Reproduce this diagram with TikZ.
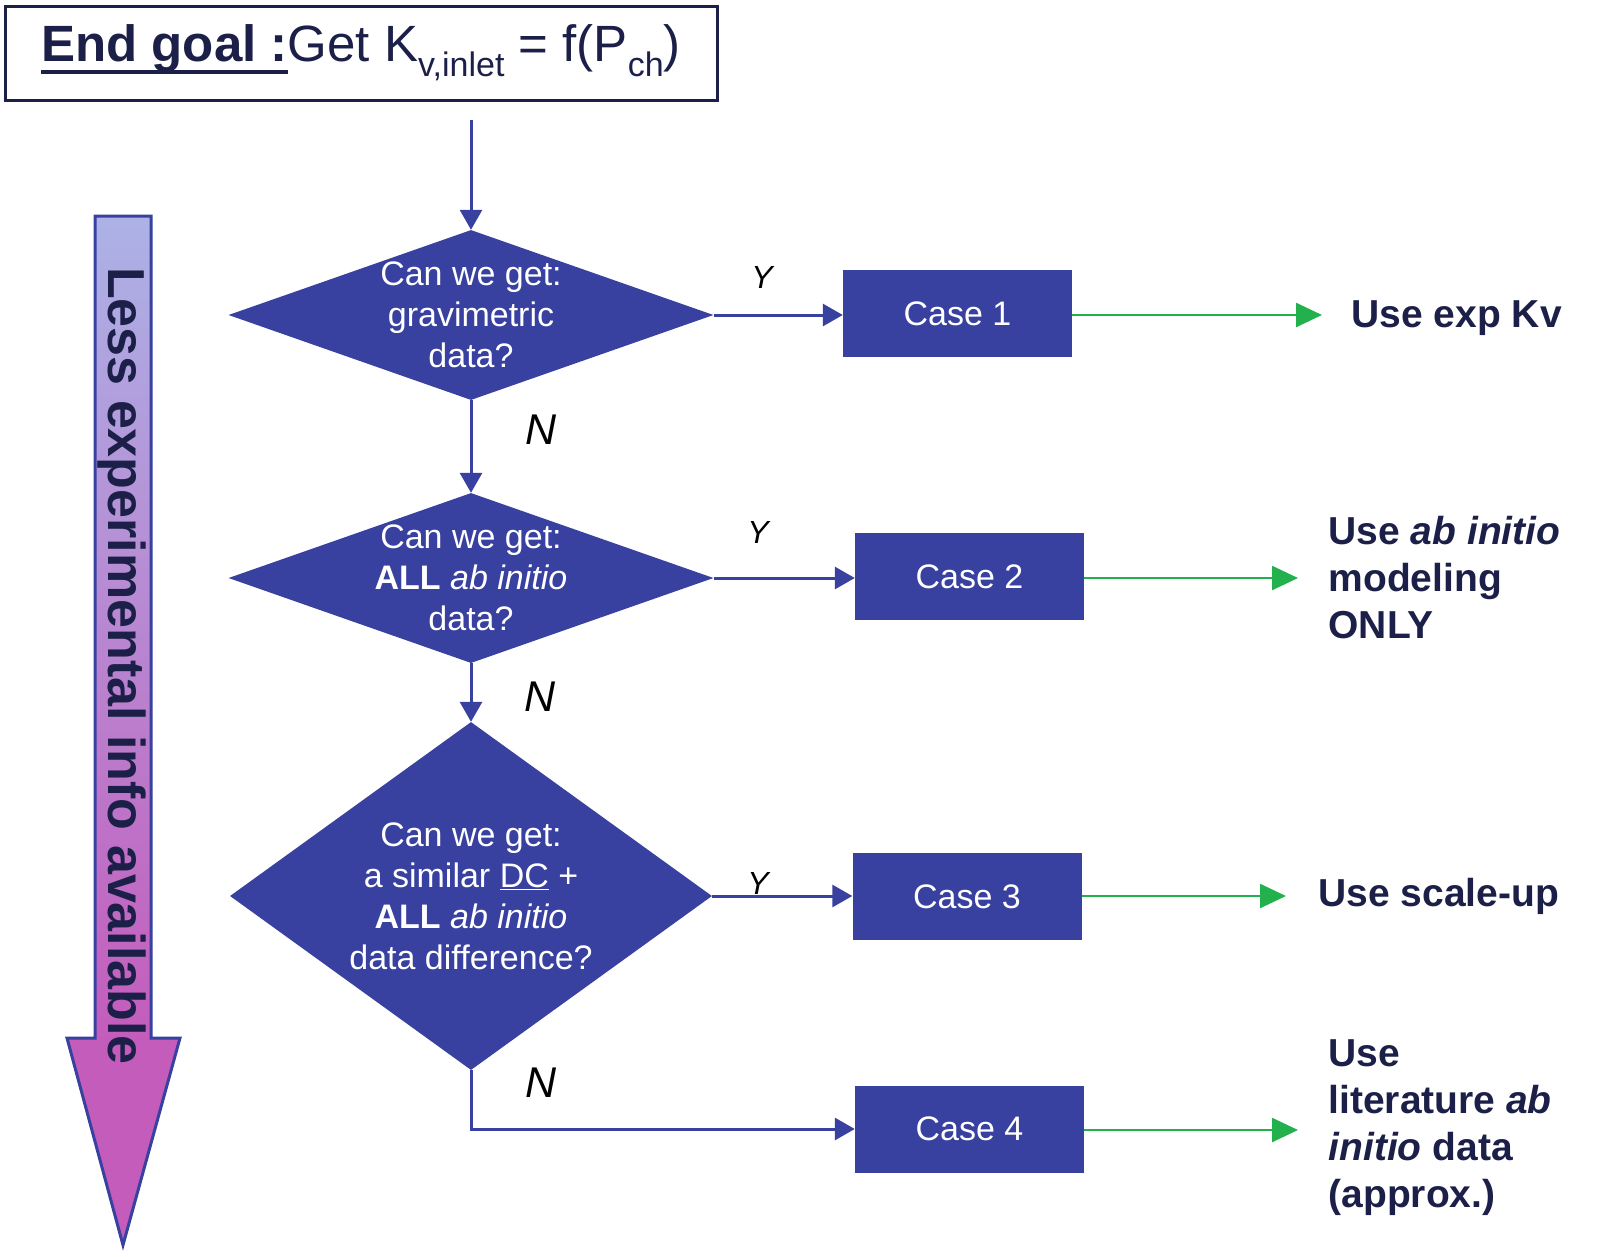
\documentclass[tikz,border=0pt]{standalone}
\usepackage{fontspec}
\setmainfont{Liberation Sans}
\usetikzlibrary{shapes.geometric,arrows.meta}

\definecolor{flowblue}{RGB}{56,64,160}
\definecolor{flowgreen}{RGB}{34,177,76}
\definecolor{navy}{RGB}{28,32,72}
\definecolor{lavender}{RGB}{172,178,230}
\definecolor{orchid}{RGB}{196,92,188}

% thick underline and lowered subscript of the title
\newcommand{\goalline}[1]{\setbox0\hbox{#1}\rlap{\rule[-12pt]{\wd0}{4pt}}\box0}
\newcommand{\lowsub}[1]{\raisebox{-15pt}{\fontsize{34}{40}\selectfont #1}}

\tikzset{
    decision/.style={diamond, fill=flowblue, inner sep=0pt, minimum width=485, minimum height=170},
    asktext/.style={text=white, align=center, font=\fontsize{34}{41}\selectfont},
    casebox/.style={rectangle, fill=flowblue, text=white, minimum width=229, minimum height=87,
        font=\fontsize{34}{41}\selectfont},
    outtext/.style={text=navy, anchor=west, align=left, font=\bfseries\fontsize{39}{47}\selectfont},
    yes/.style={font=\itshape\fontsize{32}{38}\selectfont},
    no/.style={font=\itshape\fontsize{43}{50}\selectfont},
    flow/.style={flowblue, line width=3, -{Triangle[length=20pt,width=22pt]}},
    result/.style={flowgreen, line width=2.5, -{Triangle[length=26pt,width=24pt]}}
}

\begin{document}
\begin{tikzpicture}[x=1pt, y=-1pt]
        \useasboundingbox (0,0) rectangle (1600,1256);

        % less experimental info arrow
        \fill 
            [orchid] (95,216)--(151,216)--(151,1038)--(180,1038)--(123,1245)--(67,1038)--(95,1038)--cycle;
        \shade 
            [top color=lavender, bottom color=orchid] (96.5,217.5) rectangle (149.5,1040);
        \draw 
            [flowblue, line width=3] (95,216)--(151,216)--(151,1038)--(180,1038)--(123,1245)--(67,1038)--(95,1038)--cycle;
        \node 
            [rotate=-90, anchor=base, text=navy, font=\bfseries\fontsize{52}{60}\selectfont] (less) at (108,666)
            {Less experimental info available};

        % end goal
        \node 
            [draw=navy, line width=3, minimum width=712, minimum height=94, text=navy,
             font=\fontsize{51}{60}\selectfont] (goal) at (361,53)
            {\goalline{\textbf{End goal :}}Get K\lowsub{v,inlet} = f(P\lowsub{ch})};
        \coordinate (goalout) at (471,120);

        % questions
        \node [decision] (q1) at (471,315) {};
        \node [asktext] (q1text) at (q1) {Can we get:\\gravimetric\\data?};
        \node [decision] (q2) at (471,578) {};
        \node [asktext] (q2text) at (q2) {Can we get:\\\textbf{ALL} \textit{ab initio}\\data?};
        \node [decision, minimum width=482, minimum height=348] (q3) at (471,896) {};
        \node [asktext] (q3text) at (q3) {Can we get:\\a similar \underline{DC} +\\\textbf{ALL} \textit{ab initio}\\data difference?};

        % cases
        \node [casebox] (case1) at (957.5,313.5) {Case 1};
        \node [casebox] (case2) at (969.5,576.5) {Case 2};
        \node [casebox] (case3) at (967,896.5) {Case 3};
        \node [casebox] (case4) at (969.5,1129) {Case 4};

        % outcomes
        \node [outtext] (use1) at (1348,318) {Use exp Kv};
        \node [outtext] (use2) at (1325,578) {Use \textit{ab initio}\\modeling\\ONLY};
        \node [outtext] (use3) at (1315,896) {Use scale-up};
        \node [outtext] (use4) at (1325,1128) {Use\\literature \textit{ab}\\\textit{initio} data\\(approx.)};

        % connectors
        \draw [flow] (goalout)--(q1.north);
        \draw [flow] (q1.east)--(case1.west |- q1.east);
        \draw [flow] (q1.south)--(q2.north);
        \draw [flow] (q2.east)--(case2.west |- q2.east);
        \draw [flow] (q2.south)--(q3.north);
        \draw [flow] (q3.east)--(case3.west |- q3.east);
        \draw [flow] (q3.south) |- (case4.west);

        \coordinate (end1) at (1322,315);
        \coordinate (end2) at (1298,578);
        \coordinate (end3) at (1286,896);
        \coordinate (end4) at (1298,1130);
        \draw [result] (case1.east |- end1)--(end1);
        \draw [result] (case2.east |- end2)--(end2);
        \draw [result] (case3.east |- end3)--(end3);
        \draw [result] (case4.east |- end4)--(end4);

        % Y and N labels
        \node [yes] (y1) at (762,277) {Y};
        \node [yes] (y2) at (758,532) {Y};
        \node [yes] (y3) at (758,883) {Y};
        \node [no] (n1) at (541,430) {N};
        \node [no] (n2) at (540,697) {N};
        \node [no] (n3) at (541,1083) {N};
\end{tikzpicture}
\end{document}
